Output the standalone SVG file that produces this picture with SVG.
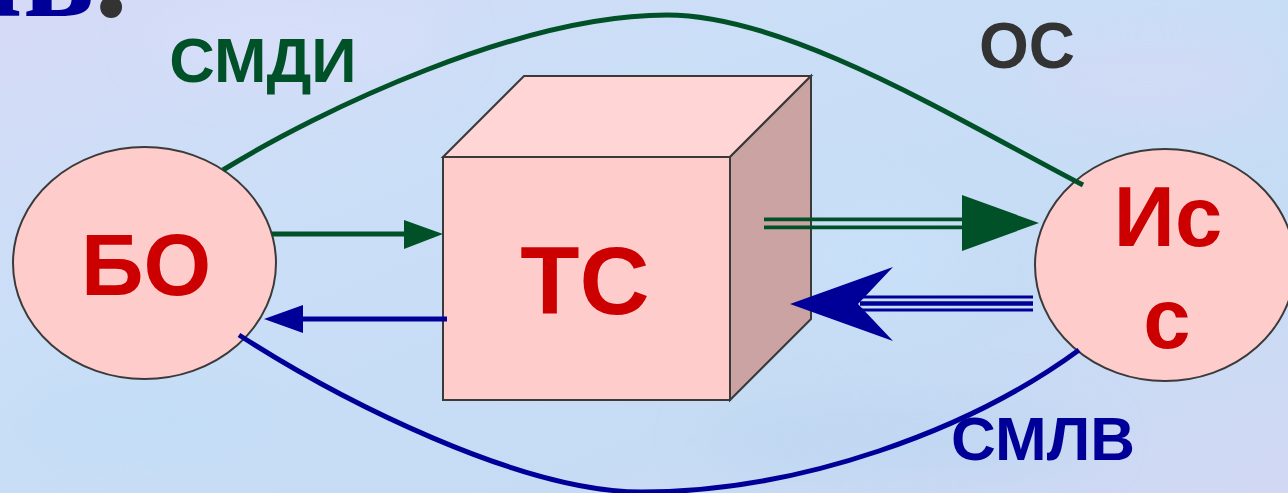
<svg xmlns="http://www.w3.org/2000/svg" width="1288" height="493" viewBox="0 0 1288 493">
<style>
.node{fill:#FFCCCC;stroke:#3a3a3a;stroke-width:2}
.lbl{font-family:"Liberation Sans",Arial,sans-serif;font-weight:bold;text-anchor:middle}
.red{fill:#CC0000}
.g{stroke:#005028;fill:none}
.b{stroke:#000099;fill:none}
.gf{fill:#005028}
.bf{fill:#000099}
</style>
<defs>
<linearGradient id="bg" x1="0" y1="0" x2="1" y2="1">
<stop offset="0" stop-color="#D6DAF7"/>
<stop offset="0.35" stop-color="#CADFF7"/>
<stop offset="0.7" stop-color="#C6DCF4"/>
<stop offset="1" stop-color="#D2D8F4"/>
</linearGradient>
<filter id="blur" x="-50%" y="-50%" width="200%" height="200%"><feGaussianBlur stdDeviation="25"/></filter>
</defs>
<rect width="1288" height="493" fill="url(#bg)"/>
<g filter="url(#blur)" opacity="0.5">
<ellipse cx="300" cy="40" rx="150" ry="40" fill="#DCE0FA"/>
<ellipse cx="900" cy="440" rx="200" ry="40" fill="#B8D4F0"/>
<ellipse cx="150" cy="420" rx="140" ry="50" fill="#C0DCF6"/>
<ellipse cx="1150" cy="80" rx="130" ry="50" fill="#D8D8F6"/>
<ellipse cx="880" cy="260" rx="90" ry="60" fill="#C8E2FA"/>
</g>
<text x="128" y="16" font-family="'Liberation Serif','Times New Roman',serif" font-weight="bold" font-size="135" text-anchor="end" fill="#000099">ль<tspan fill="#333333">.</tspan></text>
<g id="node-bo">
<ellipse class="node" cx="144.5" cy="263" rx="131.5" ry="116"/>
<text class="lbl red" x="146" y="295" font-size="87">БО</text>
</g>
<g id="node-ts">
<polygon points="443,157 524,76 811,76 730,157" fill="#FFD5D5" stroke="#3a3a3a" stroke-width="2"/>
<polygon points="730,157 811,76 811,319 730,400" fill="#CCA3A3" stroke="#3a3a3a" stroke-width="2"/>
<rect x="443" y="157" width="287" height="243" fill="#FFCCCC" stroke="#3a3a3a" stroke-width="2"/>
<text class="lbl red" x="585" y="314" font-size="97">ТС</text>
</g>
<g id="node-iss">
<ellipse class="node" cx="1165" cy="265" rx="130" ry="116"/>
<text class="lbl red" x="1168" y="246" font-size="85">Ис</text>
<text class="lbl red" x="1167" y="348" font-size="85">с</text>
</g>
<g id="connectors">
<path class="g" stroke-width="5" d="M223,170 C320,110 520,15 667,15 C790,15 963,123 1083,185"/>
<path class="b" stroke-width="5" d="M239,335 C340,400 520,492 642,492 C800,492 970,430 1079,350"/>
<line class="g" stroke-width="5" x1="272" y1="234" x2="406" y2="234"/>
<polygon class="gf" points="404,220 443,234 404,249"/>
<line class="b" stroke-width="5" x1="447" y1="319" x2="300" y2="319"/>
<polygon class="bf" points="303,305 264,319 303,333"/>
<line class="g" stroke-width="3.7" x1="764" y1="219.3" x2="964" y2="219.3"/>
<line class="g" stroke-width="3.7" x1="764" y1="227.3" x2="964" y2="227.3"/>
<polygon class="gf" points="962,195 1039,223 962,251"/>
<line class="b" stroke-width="3" x1="1033" y1="297" x2="860" y2="297"/>
<line class="b" stroke-width="4.5" x1="1033" y1="303.5" x2="860" y2="303.5"/>
<line class="b" stroke-width="3" x1="1033" y1="310" x2="860" y2="310"/>
<polygon class="bf" points="790,304 893,267 858,304 893,341"/>
</g>
<g id="labels">
<text class="lbl" x="263" y="82" font-size="63" fill="#005028">СМДИ</text>
<text class="lbl" x="1027" y="68" font-size="64" fill="#333333">ОС</text>
<text class="lbl" x="1043" y="460" font-size="62" fill="#000099">СМЛВ</text>
</g>
</svg>
